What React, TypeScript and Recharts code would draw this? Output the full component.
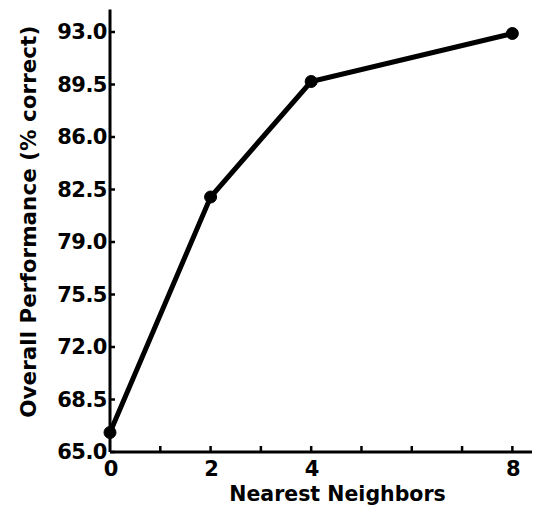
import React from "react";
import { LineChart, Line, XAxis, YAxis } from "recharts";

const neighbors = [0, 2, 4, 8];
const performance = [66.3, 82.0, 89.7, 92.9];
const xTicks = [0, 1, 2, 3, 4, 5, 6, 7, 8];
const xLabeled = [0, 2, 4, 8];
const yTicks = [65.0, 68.5, 72.0, 75.5, 79.0, 82.5, 86.0, 89.5, 93.0];

const data = neighbors.map((n, i) => ({ n, p: performance[i] }));

const FONT = "'DejaVu Sans', sans-serif";

const XTick = (props: any) => {
  const { x, y, payload } = props;
  const v = payload.value;
  return (
    <g>
      {v !== 0 && <line x1={x} y1={y} x2={x} y2={y - 6} stroke="#000" strokeWidth={2.5} />}
      {xLabeled.includes(v) && (
        <text x={x + 1} y={y + 24} textAnchor="middle" fontFamily={FONT} fontWeight="bold" fontSize={21} fill="#000">
          {v}
        </text>
      )}
    </g>
  );
};

const YTick = (props: any) => {
  const { x, y, payload } = props;
  return (
    <g>
      <line x1={x} y1={y} x2={x + 5} y2={y} stroke="#000" strokeWidth={2.5} />
      <text x={x - 3} y={y + 7} textAnchor="end" fontFamily={FONT} fontWeight="bold" fontSize={21} fill="#000" letterSpacing={-0.5}>
        {Number(payload.value).toFixed(1)}
      </text>
    </g>
  );
};

const YLabel = (props: any) => {
  const vb = props.viewBox;
  const cx = vb.x + 20;
  const cy = vb.y + vb.height / 2 - 9;
  return (
    <text
      x={cx}
      y={cy}
      transform={`rotate(-90 ${cx} ${cy})`}
      textAnchor="middle"
      dominantBaseline="central"
      fontFamily={FONT}
      fontWeight="bold"
      fontSize={21.5}
      fill="#000"
    >
      Overall Performance (% correct)
    </text>
  );
};

const XLabel = (props: any) => {
  const vb = props.viewBox;
  const cx = vb.x + vb.width / 2 + 15;
  const cy = vb.y + 42;
  return (
    <text x={cx} y={cy} textAnchor="middle" dominantBaseline="central" fontFamily={FONT} fontWeight="bold" fontSize={20.5} fill="#000">
      Nearest Neighbors
    </text>
  );
};

export default function App() {
  return (
    <div style={{ width: 532, height: 503 }}>
      <LineChart width={532} height={503} data={data} margin={{ top: 1.5, right: 5, bottom: 0, left: 0 }}>
        <XAxis
          dataKey="n"
          type="number"
          domain={[0, 8.45]}
          ticks={xTicks}
          interval={0}
          height={59}
          tickSize={0}
          tickMargin={0}
          tickLine={false}
          axisLine={{ stroke: "#000", strokeWidth: 3 }}
          tick={<XTick />}
          label={<XLabel />}
        />
        <YAxis
          type="number"
          domain={[65, 94.5]}
          ticks={yTicks}
          interval={0}
          width={102}
          tickSize={0}
          tickMargin={0}
          tickLine={false}
          axisLine={{ stroke: "#000", strokeWidth: 3 }}
          tick={<YTick />}
          label={<YLabel />}
        />
        <Line
          dataKey="p"
          stroke="#000"
          strokeWidth={5}
          dot={{ r: 6, fill: "#000", stroke: "#000", strokeWidth: 1 }}
          isAnimationActive={false}
        />
      </LineChart>
    </div>
  );
}
